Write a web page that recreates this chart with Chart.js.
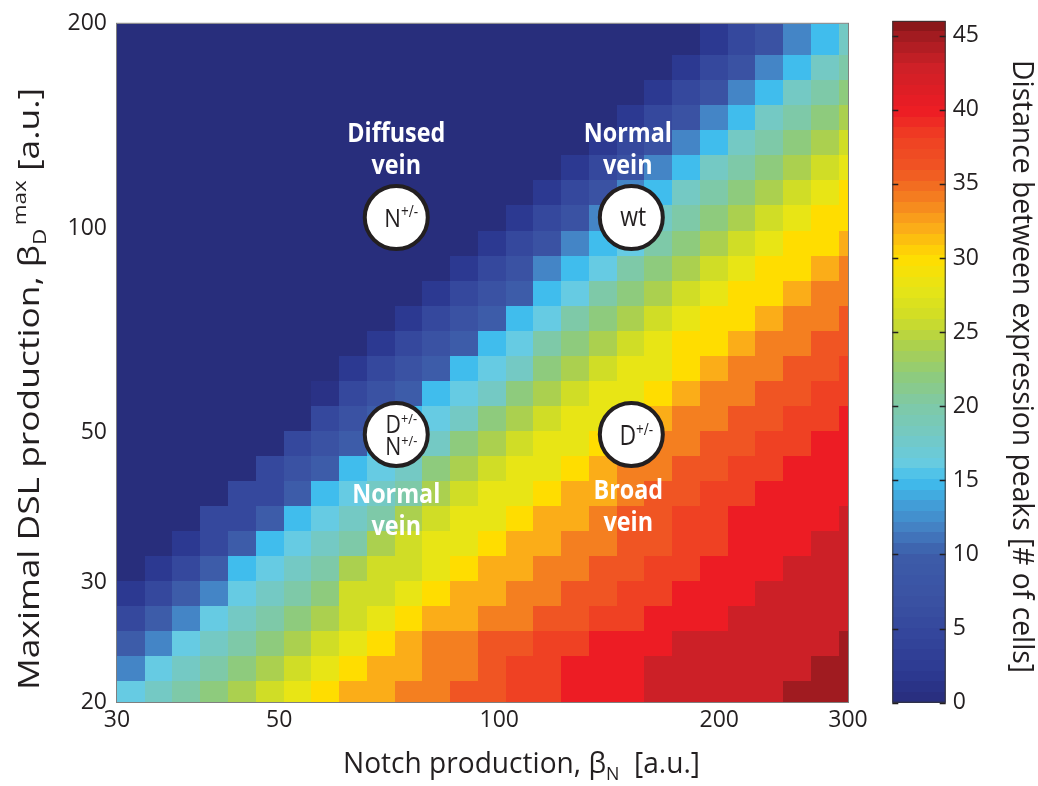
<!DOCTYPE html>
<html>
<head>
<meta charset="utf-8">
<script src="https://cdn.jsdelivr.net/npm/chart.js@4.4.1/dist/chart.umd.min.js"></script>
<style>
html, body { margin: 0; padding: 0; background: #fff; }
#wrap { position: relative; width: 1038px; height: 786px; overflow: hidden; background: #fff; }
#main { position: absolute; left: 0; top: 0; }
#cbar { position: absolute; left: 850px; top: 0; }
</style>
</head>
<body>
<div id="wrap">
  <canvas id="main" width="1038" height="786"></canvas>
  <canvas id="cbar" width="188" height="786"></canvas>
</div>
<script>
// ---------------- DATA ----------------
// Cell edges along Notch production (x, log axis) and DSL production (y, log axis, bottom -> top)
const notchEdges = [30, 32.74, 35.73, 39.00, 42.56, 46.45, 50.69, 55.33, 60.38, 65.90, 71.92, 78.49, 85.66, 93.49,
  102.03, 111.35, 121.53, 132.63, 144.75, 157.97, 172.41, 188.16, 205.35, 224.12, 244.59, 266.94, 291.33, 317.74];
const dslEdges = [19.71, 21.46, 23.36, 25.44, 27.69, 30.15, 32.83, 35.74, 38.91, 42.37, 46.13, 50.22, 54.67, 59.53,
  64.81, 70.56, 76.82, 83.64, 91.06, 99.14, 107.94, 117.52, 127.94, 139.30, 151.66, 165.12, 179.77, 195.72, 213.09];

const notchTicks = [30, 50, 100, 200, 300];
const dslTicks = [20, 30, 50, 100, 200];
const colorbarTicks = [0, 5, 10, 15, 20, 25, 30, 35, 40, 45];
const distanceRange = [0, 46];

// Distance between expression peaks [# of cells]; rows listed top (high DSL) -> bottom (low DSL)
const distance = [
  [0,0,0,0,0,0,0,0,0,0,0,0,0,0,0,0,0,0,0,0,0,2,5,7,12,15,18],
  [0,0,0,0,0,0,0,0,0,0,0,0,0,0,0,0,0,0,0,0,0,2,5,7,12,15,18],
  [0,0,0,0,0,0,0,0,0,0,0,0,0,0,0,0,0,0,0,0,2,5,7,12,15,18,20],
  [0,0,0,0,0,0,0,0,0,0,0,0,0,0,0,0,0,0,0,2,5,7,12,15,18,20,22],
  [0,0,0,0,0,0,0,0,0,0,0,0,0,0,0,0,0,0,2,5,7,12,15,18,20,22,24],
  [0,0,0,0,0,0,0,0,0,0,0,0,0,0,0,0,0,2,5,7,12,15,18,20,22,24,26],
  [0,0,0,0,0,0,0,0,0,0,0,0,0,0,0,0,2,5,7,12,15,18,20,22,24,26,28],
  [0,0,0,0,0,0,0,0,0,0,0,0,0,0,0,2,5,7,12,15,18,20,22,24,26,28,30],
  [0,0,0,0,0,0,0,0,0,0,0,0,0,0,2,5,7,12,15,18,20,22,24,26,28,30,30],
  [0,0,0,0,0,0,0,0,0,0,0,0,0,2,5,7,12,15,16,20,22,24,26,28,30,30,32],
  [0,0,0,0,0,0,0,0,0,0,0,0,2,5,7,12,15,16,20,22,24,26,28,30,30,32,34],
  [0,0,0,0,0,0,0,0,0,0,0,2,5,7,10,15,16,20,22,24,26,28,30,30,32,34,34],
  [0,0,0,0,0,0,0,0,0,0,2,5,7,10,15,16,20,22,24,26,28,30,30,32,34,34,36],
  [0,0,0,0,0,0,0,0,0,2,5,7,10,15,16,20,22,24,26,28,30,30,32,34,34,36,36],
  [0,0,0,0,0,0,0,0,2,5,7,10,15,16,18,22,24,26,28,28,30,32,34,34,36,36,38],
  [0,0,0,0,0,0,0,1,5,7,10,15,16,18,22,24,26,28,28,30,32,34,34,36,36,38,38],
  [0,0,0,0,0,0,0,5,7,10,15,16,18,22,24,26,28,28,30,32,34,34,36,36,38,38,40],
  [0,0,0,0,0,0,5,7,10,15,16,18,22,24,26,28,28,30,32,34,34,36,36,38,38,40,40],
  [0,0,0,0,0,5,7,10,15,16,18,22,24,26,28,28,30,32,34,34,36,36,38,38,40,40,40],
  [0,0,0,0,5,5,10,15,16,18,20,24,26,28,28,30,32,32,34,36,36,38,38,40,40,40,40],
  [0,0,0,5,5,10,15,16,18,20,24,26,28,28,30,32,32,34,36,36,38,38,40,40,40,40,43],
  [0,0,2,5,10,15,16,18,20,24,26,28,28,30,32,32,34,34,36,36,38,38,40,40,40,43,43],
  [0,2,5,10,15,16,18,20,24,26,26,28,30,32,32,34,34,36,36,38,38,40,40,40,43,43,43],
  [2,5,10,12,16,18,20,22,26,26,28,30,32,32,34,34,36,36,38,38,40,40,40,43,43,43,43],
  [5,10,12,16,18,20,22,24,26,28,30,32,32,34,34,36,36,38,38,40,40,40,43,43,43,43,43],
  [10,12,16,18,20,22,24,26,28,30,32,34,34,36,36,38,38,40,40,40,43,43,43,43,43,43,45],
  [12,16,18,20,22,24,26,28,30,32,32,34,34,36,38,38,40,40,40,43,43,43,43,43,43,45,45],
  [16,18,20,22,24,26,28,30,32,32,34,34,36,36,38,38,40,40,40,43,43,43,43,43,45,45,45]
];

// Genotype markers (position in data units) and vein-phenotype labels
const genotypes = [
  { notch: 72.3, dsl: 103.6, dx: 5, lines: [{ dy: 9, segs: [{ t: 'N', size: 26 }, { t: '+/-', size: 16, dy: -10 }] }] },
  { notch: 151.6, dsl: 103.6, dx: 2, lines: [{ dy: 8.5, segs: [{ t: 'wt', size: 27 }] }] },
  { notch: 72.3, dsl: 49.6, dx: 5, lines: [
      { dy: -1, segs: [{ t: 'D', size: 25 }, { t: '+/-', size: 15, dy: -9 }] },
      { dy: 20.5, segs: [{ t: 'N', size: 25 }, { t: '+/-', size: 15, dy: -9 }] }] },
  { notch: 151.6, dsl: 49.6, dx: 5, lines: [{ dy: 10.5, segs: [{ t: 'D', size: 27 }, { t: '+/-', size: 16, dy: -10 }] }] }
];
const veinLabels = [
  { lines: ['Diffused', 'vein'], notch: 72.3, dsl: 103.6, dx: 0, dy: [-75.7, -43.4] },
  { lines: ['Normal', 'vein'], notch: 151.6, dsl: 103.6, dx: -3.5, dy: [-75.6, -44] },
  { lines: ['Normal', 'vein'], notch: 72.3, dsl: 49.6, dx: 0, dy: [69, 100.7] },
  { lines: ['Broad', 'vein'], notch: 151.6, dsl: 49.6, dx: -3, dy: [65, 96.7] }
];

// ---------------- STYLE ----------------
const FONT = "'Open Sans', 'Liberation Sans', 'DejaVu Sans', sans-serif";
const INK = '#231f20';
const cmapStops = [0, 1, 2, 5, 7, 10, 12, 15, 16, 18, 20, 22, 24, 26, 28, 30, 32, 34, 36, 38, 40, 43, 45, 46];
const cmapColors = ['#282e7c', '#2a3286', '#2c3991', '#35489d', '#3a52a3', '#3d5ca9', '#4485c6', '#40bded',
  '#66cbe3', '#74c9c4', '#7ec9a8', '#8ecb7d', '#abd04f', '#d0dd26', '#e8e515', '#ffdd00', '#fbad18',
  '#f47f20', '#f05523', '#ef4123', '#ed1c24', '#cc2027', '#a01b20', '#7f1416'];

Chart.defaults.font.family = FONT;
Chart.defaults.color = INK;

function hexToRgb(h) { return [parseInt(h.slice(1, 3), 16), parseInt(h.slice(3, 5), 16), parseInt(h.slice(5, 7), 16)]; }
const cmapRgb = cmapColors.map(hexToRgb);
function colorFor(v) {
  if (v <= cmapStops[0]) return cmapColors[0];
  for (let i = 1; i < cmapStops.length; i++) {
    if (v <= cmapStops[i]) {
      const t = (v - cmapStops[i - 1]) / (cmapStops[i] - cmapStops[i - 1]);
      const a = cmapRgb[i - 1], b = cmapRgb[i];
      return 'rgb(' + Math.round(a[0] + (b[0] - a[0]) * t) + ',' + Math.round(a[1] + (b[1] - a[1]) * t) + ',' + Math.round(a[2] + (b[2] - a[2]) * t) + ')';
    }
  }
  return cmapColors[cmapColors.length - 1];
}

function fontStr(s) { return (s.weight || 400) + ' ' + s.size + 'px ' + FONT; }
function measureRun(ctx, segs) {
  let w = 0;
  segs.forEach(s => { ctx.font = fontStr(s); s.w = ctx.measureText(s.t).width; w += s.w + (s.gap || 0); });
  return w;
}
function drawRun(ctx, segs, x, y, opt) {
  const total = measureRun(ctx, segs);
  const hs = opt.width ? opt.width / total : (opt.hs || 1);
  ctx.save();
  ctx.translate(x, y);
  if (opt.rot) ctx.rotate(opt.rot);
  ctx.scale(hs, 1);
  ctx.textAlign = 'left';
  ctx.textBaseline = 'alphabetic';
  ctx.fillStyle = opt.color || INK;
  let cx = -total / 2;
  segs.forEach(s => { cx += s.gap || 0; ctx.font = fontStr(s); ctx.fillText(s.t, cx, s.dy || 0); cx += s.w; });
  ctx.restore();
}

// ---------------- MAIN HEATMAP ----------------
const heatmapPlugin = {
  id: 'heatmap',
  beforeDatasetsDraw(chart) {
    const { ctx, chartArea: a, scales: { x, y } } = chart;
    const nRows = distance.length;
    ctx.save();
    ctx.beginPath();
    ctx.rect(a.left, a.top, a.right - a.left, a.bottom - a.top);
    ctx.clip();
    distance.forEach((row, r) => {
      const yLo = dslEdges[nRows - 1 - r], yHi = dslEdges[nRows - r];
      const py0 = Math.round(y.getPixelForValue(yHi)), py1 = Math.round(y.getPixelForValue(yLo));
      row.forEach((v, c) => {
        const px0 = Math.round(x.getPixelForValue(notchEdges[c])), px1 = Math.round(x.getPixelForValue(notchEdges[c + 1]));
        ctx.fillStyle = colorFor(v);
        ctx.fillRect(px0, py0, px1 - px0, py1 - py0);
      });
    });
    ctx.restore();
  },
  afterDatasetsDraw(chart) {
    const { ctx, chartArea: a, scales: { x, y } } = chart;
    ctx.save();
    ctx.strokeStyle = '#7f7f7f';
    ctx.lineWidth = 1;
    ctx.strokeRect(a.left - 0.5, a.top - 0.5, a.right - a.left + 1, a.bottom - a.top + 1);

    ctx.font = '700 26px ' + FONT;
    const hsLabel = 98 / ctx.measureText('Diffused').width;
    veinLabels.forEach(l => {
      const cx = x.getPixelForValue(l.notch) + l.dx, cy = y.getPixelForValue(l.dsl);
      l.lines.forEach((t, i) => drawRun(ctx, [{ t, size: 26, weight: 700 }], cx, cy + l.dy[i], { hs: hsLabel, color: '#ffffff' }));
    });

    genotypes.forEach(g => {
      const cx = x.getPixelForValue(g.notch), cy = y.getPixelForValue(g.dsl);
      ctx.beginPath();
      ctx.arc(cx, cy, 31.5, 0, Math.PI * 2);
      ctx.fillStyle = '#ffffff';
      ctx.fill();
      ctx.lineWidth = 4;
      ctx.strokeStyle = INK;
      ctx.stroke();
      g.lines.forEach(line => drawRun(ctx, line.segs, cx + g.dx, cy + line.dy, { hs: 0.85 }));
    });
    ctx.restore();
  },
  afterDraw(chart) {
    const { ctx } = chart;
    drawRun(ctx, [
      { t: 'Notch production, β', size: 30 },
      { t: 'N', size: 19, dy: 7 },
      { t: '  [a.u.]', size: 30 }
    ], 521.5, 773, { width: 357 });
    drawRun(ctx, [
      { t: 'Maximal DSL production, β', size: 30 },
      { t: 'D', size: 19, dy: 7 },
      { t: 'max', size: 19, dy: -13, gap: 3 },
      { t: ' [a.u.]', size: 30 }
    ], 39, 389, { rot: -Math.PI / 2, width: 602 });
  }
};

new Chart(document.getElementById('main'), {
  type: 'scatter',
  data: { datasets: [] },
  options: {
    responsive: false,
    animation: false,
    events: [],
    layout: { padding: { left: 0, right: 190, top: 16, bottom: 0 } },
    plugins: { legend: { display: false }, tooltip: { enabled: false } },
    scales: {
      x: {
        type: 'logarithmic', min: 30, max: 300, position: 'bottom',
        afterBuildTicks: s => { s.ticks = notchTicks.map(v => ({ value: v })); },
        afterFit: s => { s.height = 84; },
        ticks: { callback: v => String(v), font: { size: 23 }, color: INK, padding: 5, maxRotation: 0, autoSkip: false },
        grid: { display: false, drawTicks: false },
        border: { display: false }
      },
      y: {
        type: 'logarithmic', min: 20, max: 200, position: 'left',
        afterBuildTicks: s => { s.ticks = dslTicks.map(v => ({ value: v })); },
        afterFit: s => { s.width = 117; },
        ticks: { callback: v => String(v), font: { size: 23 }, color: INK, padding: 10, autoSkip: false },
        grid: { display: false, drawTicks: false },
        border: { display: false }
      }
    }
  },
  plugins: [heatmapPlugin]
});

// ---------------- COLORBAR ----------------
const colorbarPlugin = {
  id: 'colorbar',
  beforeDatasetsDraw(chart) {
    const { ctx, chartArea: a, scales: { y } } = chart;
    const n = 64, lo = distanceRange[0], hi = distanceRange[1];
    ctx.save();
    for (let k = 0; k < n; k++) {
      const v0 = lo + (hi - lo) * k / n, v1 = lo + (hi - lo) * (k + 1) / n;
      const p0 = Math.round(y.getPixelForValue(v0)), p1 = Math.round(y.getPixelForValue(v1));
      ctx.fillStyle = colorFor((v0 + v1) / 2);
      ctx.fillRect(a.left, p1, a.right - a.left, p0 - p1);
    }
    ctx.strokeStyle = INK;
    ctx.lineWidth = 1.3;
    colorbarTicks.forEach(t => {
      const p = Math.round(y.getPixelForValue(t)) + 0.5;
      ctx.beginPath();
      ctx.moveTo(a.left, p); ctx.lineTo(a.left + 6, p);
      ctx.moveTo(a.right - 6, p); ctx.lineTo(a.right, p);
      ctx.stroke();
    });
    ctx.lineWidth = 1;
    ctx.strokeStyle = '#333333';
    ctx.strokeRect(a.left + 0.5, a.top + 0.5, a.right - a.left - 1, a.bottom - a.top - 1);
    ctx.restore();
  },
  afterDraw(chart) {
    drawRun(chart.ctx, [{ t: 'Distance between expression peaks [# of cells]', size: 30 }], 163, 366.5,
      { rot: Math.PI / 2, width: 613 });
  }
};

new Chart(document.getElementById('cbar'), {
  type: 'bar',
  data: { labels: [''], datasets: [] },
  options: {
    responsive: false,
    animation: false,
    events: [],
    layout: { padding: { left: 42.3, right: 0, top: 15.7, bottom: 83.3 } },
    plugins: { legend: { display: false }, tooltip: { enabled: false } },
    scales: {
      x: { display: false },
      y: {
        position: 'right', min: distanceRange[0], max: distanceRange[1],
        afterBuildTicks: s => { s.ticks = colorbarTicks.map(v => ({ value: v })); },
        afterFit: s => { s.width = 92.3; },
        ticks: { font: { size: 23 }, color: INK, padding: 7, autoSkip: false },
        grid: { display: false, drawTicks: false },
        border: { display: false }
      }
    }
  },
  plugins: [colorbarPlugin]
});
</script>
</body>
</html>
